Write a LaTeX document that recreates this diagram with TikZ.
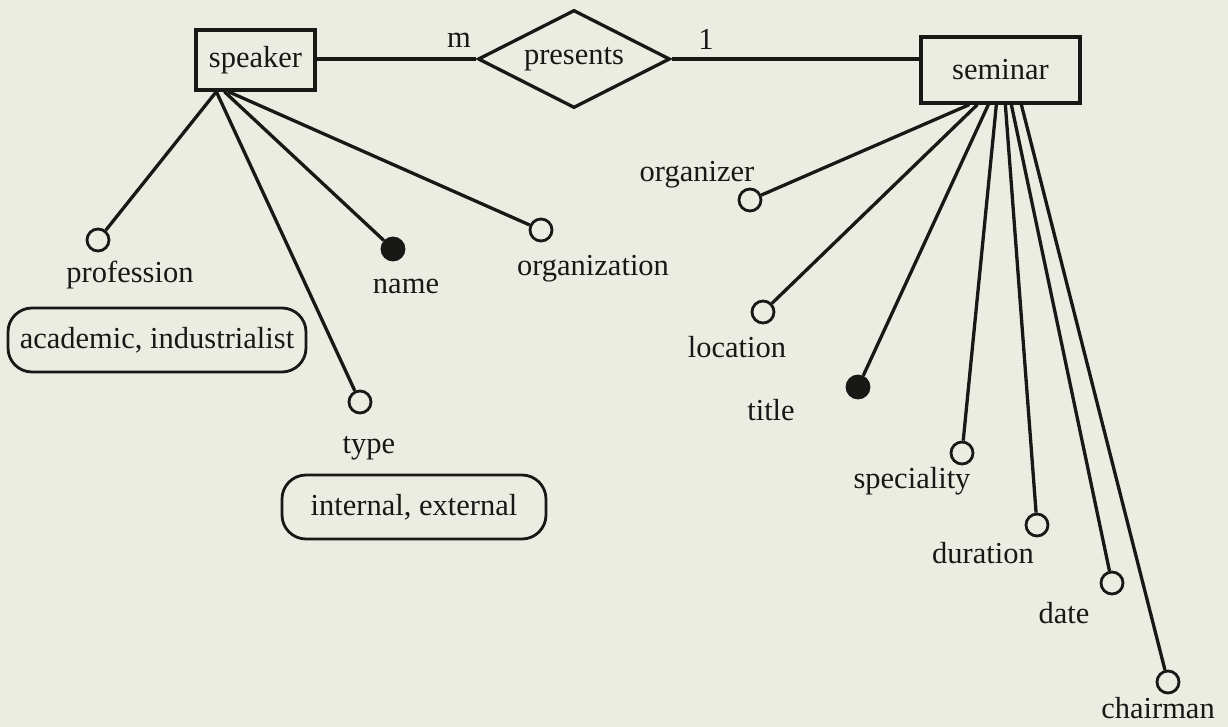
\documentclass[tikz,border=0pt]{standalone}
\usepackage{fontspec}
\setmainfont{Liberation Serif}
\usetikzlibrary{shapes.geometric,calc}
\definecolor{paper}{RGB}{236,237,226}
\definecolor{ink}{RGB}{24,24,22}
\begin{document}
\begin{tikzpicture}[x=1pt,y=-1pt,
  every node/.style={font=\fontsize{30.5}{36}\selectfont, text=ink},
  conn/.style={draw=ink, line width=3.3pt},
  ent/.style={draw=ink, line width=3.3pt, rectangle, inner sep=0pt},
  rel/.style={draw=ink, line width=3.3pt, diamond, inner sep=0pt, aspect=1.96, minimum width=192pt, minimum height=98pt},
  attr/.style={circle, draw=ink, line width=2.8pt, minimum size=22pt, inner sep=0pt, fill=paper},
  keyattr/.style={attr, fill=ink},
  lbl/.style={anchor=base, inner sep=0pt},
  dom/.style={draw=ink, line width=2.8pt, rounded corners=24pt, minimum height=64pt, inner sep=0pt}
]
\fill[paper] (0,0) rectangle (1228,727);
\useasboundingbox (0,0) rectangle (1228,727);

% entities and relationship
\node[ent, minimum width=119pt, minimum height=60pt] (speaker) at (255.5,60) {speaker};
\node[rel] (presents) at (574,59) {presents};
\node[ent, minimum width=159pt, minimum height=66pt] (seminar) at (1000.5,70) {seminar};

\draw[conn] (speaker.east |- presents.west) -- (presents.west);
\draw[conn] (presents.east) -- (seminar.west |- presents.east);
\node[lbl] (m) at (459,48) {m};
\node[lbl] (one) at (706,50) {1};

% speaker attributes
\node[attr] (profession) at (98,240) {};
\node[keyattr] (name) at (393,249) {};
\node[attr] (organization) at (541,230) {};
\node[attr] (type) at (360,402) {};

\coordinate (sp1) at ($(speaker.south west)+(22,0)$);
\coordinate (sp2) at ($(speaker.south west)+(30,0)$);
\coordinate (sp3) at ($(speaker.south west)+(34,0)$);
\draw[conn] (sp1) -- (profession);
\draw[conn] (sp1) -- (type);
\draw[conn] (sp2) -- (name);
\draw[conn] (sp3) -- (organization);

\node[lbl] (tprof) at (130,283) {profession};
\node[lbl] (tname) at (406,294) {name};
\node[lbl] (torg) at (593,276) {organization};
\node[lbl] (ttype) at (369,453) {type};
\node[dom, minimum width=298pt] (dprof) at (157,340) {academic, industrialist};
\node[dom, minimum width=264pt] (dtype) at (414,507) {internal, external};

% seminar attributes
\node[attr] (organizer) at (750,200) {};
\node[attr] (location) at (763,312) {};
\node[keyattr] (title) at (858,387) {};
\node[attr] (speciality) at (962,453) {};
\node[attr] (duration) at (1037,525) {};
\node[attr] (date) at (1112,583) {};
\node[attr] (chairman) at (1168,682) {};

\coordinate (se1) at ($(seminar.south west)+(50,0)$);
\coordinate (se2) at ($(seminar.south west)+(58,0)$);
\coordinate (se3) at ($(seminar.south west)+(69,0)$);
\coordinate (se4) at ($(seminar.south west)+(77,0)$);
\coordinate (se5) at ($(seminar.south west)+(86,0)$);
\coordinate (se6) at ($(seminar.south west)+(92,0)$);
\coordinate (se7) at ($(seminar.south west)+(102,0)$);
\draw[conn] (se1) -- (organizer);
\draw[conn] (se2) -- (location);
\draw[conn] (se3) -- (title);
\draw[conn] (se4) -- (speciality);
\draw[conn] (se5) -- (duration);
\draw[conn] (se6) -- (date);
\draw[conn] (se7) -- (chairman);

\node[lbl] (torganizer) at (697,182) {organizer};
\node[lbl] (tlocation) at (737,357) {location};
\node[lbl] (ttitle) at (771,420) {title};
\node[lbl] (tspeciality) at (912,488) {speciality};
\node[lbl] (tduration) at (983,563) {duration};
\node[lbl] (tdate) at (1064,623) {date};
\node[lbl] (tchairman) at (1158,718) {chairman};
\end{tikzpicture}
\end{document}
